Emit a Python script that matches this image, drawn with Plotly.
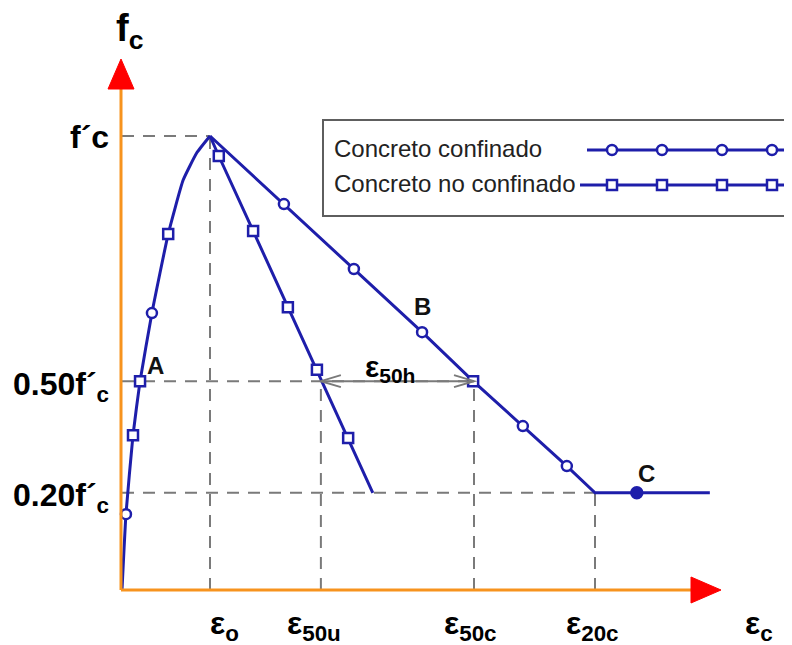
import plotly.graph_objects as go

# ------------------------------------------------------------
#   datos (deformación relativa a eps_o = 2, esfuerzo relativo a f'c = 1)
# ------------------------------------------------------------

# rama ascendente (común a ambos concretos)
asc_x = [0.0, 0.09, 0.25, 0.41, 0.68, 1.05, 1.39, 1.70, 2.0]
asc_y = [0.0, 0.167, 0.341, 0.460, 0.610, 0.784, 0.903, 0.963, 1.0]
asc_mk = ["", "circle", "square", "square", "circle", "square", "", "", ""]

# concreto confinado (rama descendente + meseta)
conf_x = [2.0, 3.68, 5.27, 6.82, 7.98, 9.11, 10.11, 10.75, 11.70, 13.36]
conf_y = [1.0, 0.850, 0.707, 0.568, 0.460, 0.361, 0.273, 0.214, 0.214, 0.214]
conf_mk = ["", "circle", "circle", "circle", "square", "circle", "circle", "", "filled", ""]

# concreto no confinado
unconf_x = [2.0, 2.20, 2.98, 3.77, 4.43, 5.14, 5.70]
unconf_y = [1.0, 0.956, 0.791, 0.623, 0.485, 0.335, 0.214]
unconf_mk = ["", "square", "square", "square", "square", "square", ""]

# deformaciones y niveles de referencia
strain_ticks = [2.0, 4.52, 8.0, 10.75]
strain_labels = ["ε<sub>o</sub>", "ε<sub>50u</sub>", "ε<sub>50c</sub>", "ε<sub>20c</sub>"]
strain_label_shift = [14, -7, -4, -3]
stress_levels = [1.0, 0.460, 0.214]
stress_labels = ["f´c", "0.50f´<sub>c</sub>", "0.20f´<sub>c</sub>"]

legend_names = ["Concreto confinado", "Concreto no confinado"]

# ------------------------------------------------------------
#   escala: unidades de datos <-> pixeles de la pagina
#   (la pagina deja 8 px de margen alrededor de la figura)
# ------------------------------------------------------------
PAGE_W, PAGE_H, BODY = 792, 645, 8
W, H = PAGE_W - BODY, PAGE_H - BODY
X0_PX, X_SCALE = 122, 44.0
Y0_PX, Y_SCALE = 590, 454.0


def px_x(p):
    return (p - X0_PX) / X_SCALE


def px_y(p):
    return (Y0_PX - p) / Y_SCALE


BLUE = "#1e1eaa"
GRAY = "#7a7a7a"
ORANGE = "#f7931e"
RED = "#ff0000"
FONT = "Liberation Sans, Arial, sans-serif"


def marker_style(kinds):
    sym, size, fill = [], [], []
    for k in kinds:
        if k == "":
            sym.append("circle"); size.append(0); fill.append("white")
        elif k == "filled":
            sym.append("circle"); size.append(11); fill.append(BLUE)
        else:
            sym.append(k); size.append(10); fill.append("white")
    return dict(symbol=sym, size=size, color=fill, opacity=1, line=dict(color=BLUE, width=2.5))


fig = go.Figure()

fig.add_trace(go.Scatter(x=asc_x, y=asc_y, mode="lines+markers", line=dict(color=BLUE, width=3, shape="spline", smoothing=0.4),
                         marker=marker_style(asc_mk), showlegend=False))
fig.add_trace(go.Scatter(x=unconf_x, y=unconf_y, mode="lines+markers", line=dict(color=BLUE, width=3),
                         marker=marker_style(unconf_mk), showlegend=False))
fig.add_trace(go.Scatter(x=conf_x, y=conf_y, mode="lines+markers", line=dict(color=BLUE, width=3),
                         marker=marker_style(conf_mk), showlegend=False))

# ------------------------------------------------------------
#   leyenda dibujada a mano
# ------------------------------------------------------------
key_px = [612, 662, 722, 772]
for name, row_y, start, sym in [(legend_names[0], 150, 587, "circle"), (legend_names[1], 185, 580, "square")]:
    xs = [px_x(start)] + [px_x(p) for p in key_px] + [px_x(800)]
    ys = [px_y(row_y)] * len(xs)
    fig.add_trace(go.Scatter(x=xs, y=ys, mode="lines+markers", line=dict(color=BLUE, width=3),
                             marker=marker_style([""] + [sym] * 4 + [""]), showlegend=False))
    fig.add_annotation(x=px_x(332), y=px_y(row_y - 2), text=name, showarrow=False, xanchor="left", yanchor="middle",
                       font=dict(family=FONT, size=24, color="#222222"))

shapes = []
shapes.append(dict(type="rect", x0=px_x(323), x1=px_x(805), y0=px_y(120), y1=px_y(216),
                   line=dict(color="#5e5e5e", width=2), fillcolor="white", layer="below"))

# lineas de referencia discontinuas
dash = dict(color=GRAY, width=2, dash="12px,9px")
shapes.append(dict(type="line", x0=0, x1=strain_ticks[0], y0=stress_levels[0], y1=stress_levels[0], line=dash, layer="below"))
shapes.append(dict(type="line", x0=0, x1=strain_ticks[2], y0=stress_levels[1], y1=stress_levels[1], line=dash, layer="below"))
shapes.append(dict(type="line", x0=0, x1=strain_ticks[3], y0=stress_levels[2], y1=stress_levels[2], line=dash, layer="below"))
shapes.append(dict(type="line", x0=strain_ticks[0], x1=strain_ticks[0], y0=0, y1=stress_levels[0], line=dash, layer="below"))
shapes.append(dict(type="line", x0=strain_ticks[1], x1=strain_ticks[1], y0=0, y1=stress_levels[1], line=dash, layer="below"))
shapes.append(dict(type="line", x0=strain_ticks[2], x1=strain_ticks[2], y0=0, y1=stress_levels[1], line=dash, layer="below"))
shapes.append(dict(type="line", x0=strain_ticks[3], x1=strain_ticks[3], y0=0, y1=stress_levels[2], line=dash, layer="below"))

# flecha doble eps_50h
a_l, a_r, a_y = strain_ticks[1], strain_ticks[2], stress_levels[1]
hx, hy = 20 / X_SCALE, 6 / Y_SCALE
shapes.append(dict(type="line", x0=a_l, x1=a_r, y0=a_y, y1=a_y, line=dict(color=GRAY, width=2)))
shapes.append(dict(type="path", path=f"M {a_l + hx},{a_y + hy} L {a_l},{a_y} L {a_l + hx},{a_y - hy}", line=dict(color=GRAY, width=2)))
shapes.append(dict(type="path", path=f"M {a_r - hx},{a_y + hy} L {a_r},{a_y} L {a_r - hx},{a_y - hy}", line=dict(color=GRAY, width=2)))

# ejes naranjas con puntas rojas
shapes.append(dict(type="line", x0=px_x(121), x1=px_x(121), y0=0, y1=px_y(88), line=dict(color=ORANGE, width=3)))
shapes.append(dict(type="line", x0=px_x(121), x1=px_x(692), y0=0, y1=0, line=dict(color=ORANGE, width=3)))
shapes.append(dict(type="path", path=f"M {px_x(108)},{px_y(89)} L {px_x(121)},{px_y(59)} L {px_x(134)},{px_y(89)} Z",
                   fillcolor=RED, line=dict(color=RED, width=1)))
shapes.append(dict(type="path", path=f"M {px_x(691)},{px_y(577)} L {px_x(721)},{px_y(590)} L {px_x(691)},{px_y(603)} Z",
                   fillcolor=RED, line=dict(color=RED, width=1)))

# ------------------------------------------------------------
#   textos
# ------------------------------------------------------------
bold = dict(family=FONT, size=32, color="black")
fig.add_annotation(x=px_x(130), y=px_y(31), text="<b>f<sub>c</sub></b>", showarrow=False, font=dict(family=FONT, size=38, color="black"))
for lev, lab in zip(stress_levels, stress_labels):
    fig.add_annotation(x=px_x(111), y=lev, text=f"<b>{lab}</b>", showarrow=False, xanchor="right", yanchor="middle",
                       yshift=-1 if "sub" not in lab else -5, font=bold)
for t, lab, sh in zip(strain_ticks, strain_labels, strain_label_shift):
    fig.add_annotation(x=t, y=px_y(625), text=f"<b>{lab}</b>", showarrow=False, xanchor="center", xshift=sh, font=bold)
fig.add_annotation(x=px_x(743), y=px_y(625), text="<b>ε<sub>c</sub></b>", showarrow=False, xanchor="left", font=bold)
fig.add_annotation(x=px_x(363), y=px_y(368), text="<b>ε<sub>50h</sub></b>", showarrow=False, xanchor="left",
                   font=dict(family=FONT, size=30, color="black"))

pt = dict(family=FONT, size=24, color="#111111")
fig.add_annotation(x=asc_x[3], y=asc_y[3], text="<b>A</b>", showarrow=False, xshift=15, yshift=16, font=pt)
fig.add_annotation(x=conf_x[3], y=conf_y[3], text="<b>B</b>", showarrow=False, xshift=0, yshift=26, font=pt)
fig.add_annotation(x=conf_x[8], y=conf_y[8], text="<b>C</b>", showarrow=False, xshift=10, yshift=19, font=pt)

fig.update_layout(
    width=W, height=H, autosize=False,
    margin=dict(l=0, r=0, t=0, b=0, pad=0),
    plot_bgcolor="white", paper_bgcolor="white",
    xaxis=dict(range=[px_x(BODY), px_x(PAGE_W)], visible=False, fixedrange=True),
    yaxis=dict(range=[px_y(PAGE_H), px_y(BODY)], visible=False, fixedrange=True),
    shapes=shapes,
    showlegend=False,
)

fig.write_html("out.html")
